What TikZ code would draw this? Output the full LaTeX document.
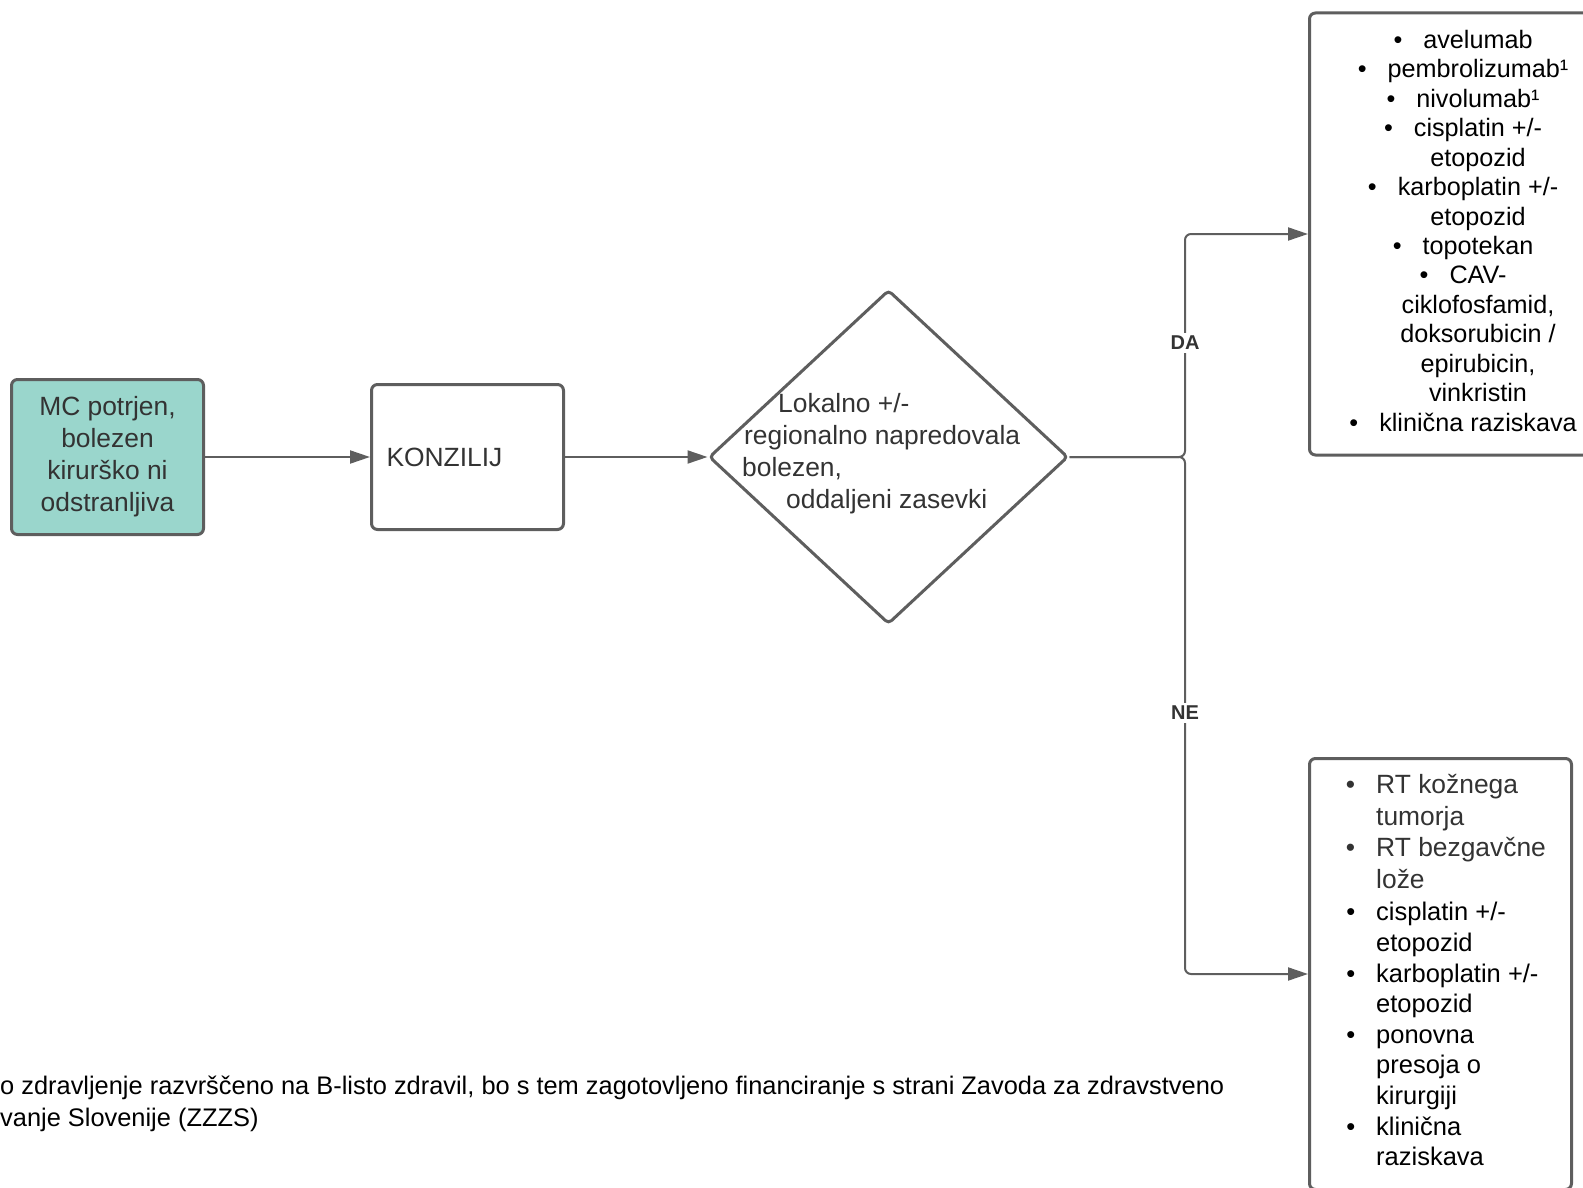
\documentclass[tikz,border=0pt]{standalone}
\usepackage{fontspec}
\setmainfont{Liberation Sans}
\usetikzlibrary{shapes.geometric,arrows.meta}

\newcommand{\itm}{\llap{\textbullet\hspace{21pt}}}

\begin{document}
\begin{tikzpicture}[x=1pt,y=-1pt]

% Colors
\definecolor{edgegray}{RGB}{94,94,94}   % borders and arrows
\definecolor{txtgray}{RGB}{51,51,51}    % dark text
\definecolor{mcteal}{RGB}{154,214,204}  % start box

\tikzset{
  box/.style={draw=edgegray, line width=3pt, rounded corners=6pt, fill=white, inner sep=0pt},
  flow/.style={draw=edgegray, line width=2pt, -{Triangle[length=20pt,width=13pt]}},
  lbl/.style={font=\fontsize{20}{24}\selectfont\bfseries, text=txtgray, fill=white, inner sep=3pt},
  txtbig/.style={font=\fontsize{26.4}{32}\selectfont, text=txtgray},
  txtlist/.style={font=\fontsize{25.2}{29.43}\selectfont}
}

\useasboundingbox (0,0) rectangle (1583,1188);

% === START BOX ===
\node[box, fill=mcteal, minimum width=192pt, minimum height=155pt, txtbig, align=center] (mc) at (107.5,457) {MC potrjen,\\bolezen\\kirurško ni\\odstranljiva};

% === KONZILIJ ===
\node[box, minimum width=192pt, minimum height=145pt, txtbig, text width=162pt, align=left, inner xsep=15pt] (kz) at (467.5,457) {KONZILIJ};

% === DECISION ===
\node[box, shape=diamond, minimum width=359pt, minimum height=334pt, rounded corners=4pt] (dia) at (888.5,457) {};
\node[txtbig, align=left, anchor=west, inner sep=0pt] (diatxt) at (742,454) {\hspace*{36pt}Lokalno +/-\\\hspace*{2pt}regionalno napredovala\\bolezen,\\\hspace*{44pt}oddaljeni zasevki};

% === DA: list ===
\node[box, minimum width=337pt, minimum height=442pt] (da) at (1478,234) {};
\node[txtlist, align=center, anchor=north, inner sep=0pt] (dalist) at (1478,30) {\itm avelumab\\\itm pembrolizumab¹\\\itm nivolumab¹\\\itm cisplatin +/-\\etopozid\\\itm karboplatin +/-\\etopozid\\\itm topotekan\\\itm CAV-\\ciklofosfamid,\\doksorubicin /\\epirubicin,\\vinkristin\\\itm klinična raziskava};

% === NE: list ===
\node[box, minimum width=262pt, minimum height=431pt] (ne) at (1440.5,974) {};
\node[font=\fontsize{25.5}{30.6}\selectfont, align=left, anchor=north west, inner sep=0pt] (nelist) at (1376,774) {{\color{txtgray}\fontsize{26.4}{30.6}\selectfont\itm RT kožnega}\\[1pt]{\color{txtgray}\fontsize{26.4}{30.6}\selectfont tumorja}\\[1pt]{\color{txtgray}\fontsize{26.4}{30.6}\selectfont\itm RT bezgavčne}\\[1pt]{\color{txtgray}\fontsize{26.4}{30.6}\selectfont lože}\\[2pt]\itm cisplatin +/-\\etopozid\\\itm karboplatin +/-\\etopozid\\\itm ponovna\\presoja o\\kirurgiji\\\itm klinična\\raziskava};

% === Arrows ===
\draw[flow] (mc.east) -- (kz.west);
\draw[flow] (kz.east) -- (dia.west);
\coordinate (split) at (1185,457);
\draw[flow, rounded corners=6pt] (dia.east) -- (split) |- (da.west);
\draw[flow, rounded corners=6pt] (dia.east) -- (split) |- (ne.west);
\node[lbl] (dalbl) at (1185,343) {DA};
\node[lbl] (nelbl) at (1185,713) {NE};

% === Footnote ===
\node[font=\fontsize{25.4}{31.5}\selectfont, align=left, anchor=north west, inner sep=0pt] (note) at (0,1076) {o zdravljenje razvrščeno na B-listo zdravil, bo s tem zagotovljeno financiranje s strani Zavoda za zdravstveno\\vanje Slovenije (ZZZS)};

\end{tikzpicture}
\end{document}
